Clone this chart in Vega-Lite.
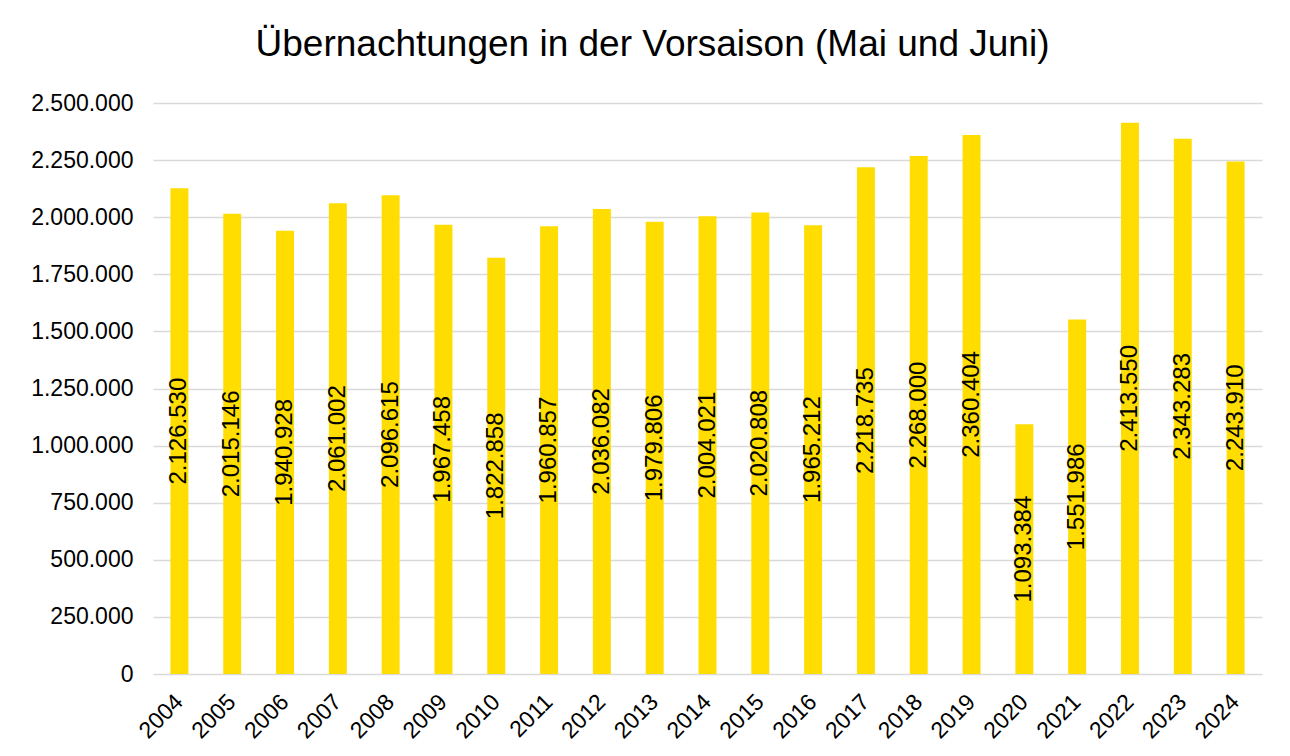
{
  "$schema": "https://vega.github.io/schema/vega-lite/v6.json",
  "autosize": {"type": "none"},
  "width": 1109,
  "height": 571,
  "padding": {"left": 153, "top": 103, "right": 28, "bottom": 82},
  "background": "white",
  "config": {
    "locale": {"number": {"decimal": ",", "thousands": ".", "grouping": [3], "currency": ["", " €"]}},
    "font": "Liberation Sans",
    "view": {"stroke": null}
  },
  "title": {
    "text": "Übernachtungen in der Vorsaison (Mai und Juni)",
    "font": "Liberation Sans",
    "fontSize": 37,
    "fontWeight": "normal",
    "color": "#000000",
    "anchor": "middle",
    "dx": -55,
    "offset": 28
  },
  "data": {
    "values": [
      {"Jahr": "2004", "Wert": 2126530},
      {"Jahr": "2005", "Wert": 2015146},
      {"Jahr": "2006", "Wert": 1940928},
      {"Jahr": "2007", "Wert": 2061002},
      {"Jahr": "2008", "Wert": 2096615},
      {"Jahr": "2009", "Wert": 1967458},
      {"Jahr": "2010", "Wert": 1822858},
      {"Jahr": "2011", "Wert": 1960857},
      {"Jahr": "2012", "Wert": 2036082},
      {"Jahr": "2013", "Wert": 1979806},
      {"Jahr": "2014", "Wert": 2004021},
      {"Jahr": "2015", "Wert": 2020808},
      {"Jahr": "2016", "Wert": 1965212},
      {"Jahr": "2017", "Wert": 2218735},
      {"Jahr": "2018", "Wert": 2268000},
      {"Jahr": "2019", "Wert": 2360404},
      {"Jahr": "2020", "Wert": 1093384},
      {"Jahr": "2021", "Wert": 1551986},
      {"Jahr": "2022", "Wert": 2413550},
      {"Jahr": "2023", "Wert": 2343283},
      {"Jahr": "2024", "Wert": 2243910}
    ]
  },
  "encoding": {
    "x": {
      "field": "Jahr",
      "type": "ordinal",
      "title": null,
      "scale": {"paddingInner": 0.66, "paddingOuter": 0.33},
      "axis": {
        "labelAngle": -45,
        "labelAlign": "right",
        "labelBaseline": "middle",
        "labelFontSize": 23,
        "labelColor": "#000000",
        "labelPadding": 24,
        "ticks": false,
        "domain": false
      }
    }
  },
  "layer": [
    {
      "mark": {"type": "bar", "color": "#FFDD00"},
      "encoding": {
        "y": {
          "field": "Wert",
          "type": "quantitative",
          "title": null,
          "scale": {"domain": [0, 2500000], "nice": false},
          "axis": {
            "values": [0, 250000, 500000, 750000, 1000000, 1250000, 1500000, 1750000, 2000000, 2250000, 2500000],
            "format": ",d",
            "labelFontSize": 23,
            "labelColor": "#000000",
            "labelPadding": 20,
            "ticks": false,
            "domain": false,
            "grid": true,
            "gridColor": "#d9d9d9",
            "gridWidth": 1.5
          }
        }
      }
    },
    {
      "mark": {"type": "text", "angle": 270, "align": "center", "baseline": "middle", "fontSize": 24, "color": "#000000", "font": "Liberation Sans"},
      "encoding": {
        "y": {
          "field": "Wert",
          "type": "quantitative",
          "scale": {"domain": [0, 5000000], "nice": false},
          "axis": null
        },
        "text": {"field": "Wert", "type": "quantitative", "format": ",d"}
      }
    }
  ],
  "resolve": {"scale": {"y": "independent"}}
}
